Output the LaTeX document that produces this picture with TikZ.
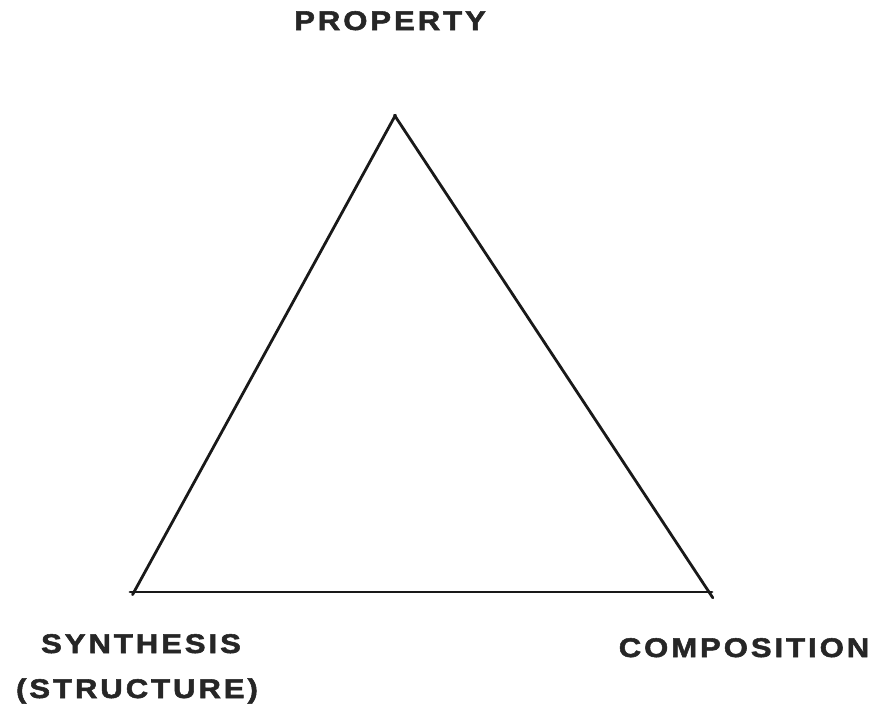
\documentclass[tikz,border=0pt]{standalone}
\usepackage{fontspec}
\newfontfamily\labfont{Liberation Sans Bold}[FakeStretch=1.15,LetterSpace=11,FakeBold=2]
\begin{document}
\begin{tikzpicture}[x=1pt,y=-1pt,
  lab/.style={font=\labfont\fontsize{27}{31}\selectfont, text=black!85, inner sep=0pt, anchor=base},
  side/.style={line width=2.8pt, black!90, line cap=round}]
\useasboundingbox[fill=white] (0,0) rectangle (881,704);
\coordinate (A) at (395,116);
\coordinate (B) at (134,592);
\coordinate (C) at (709,592);
\draw[side, shorten <=-1pt, shorten >=-3pt] (A) -- (B);
\draw[side, shorten <=-4pt, shorten >=-3pt] (B) -- (C);
\draw[side, shorten <=-1pt, shorten >=-7pt] (A) -- (C);
\node[lab] (prop) at (390,30) {PROPERTY};
\node[lab] (syn) at (141,653) {SYNTHESIS};
\node[lab] (str) at (137,698) {(STRUCTURE)};
\node[lab] (comp) at (744,657) {COMPOSITION};
\end{tikzpicture}
\end{document}
